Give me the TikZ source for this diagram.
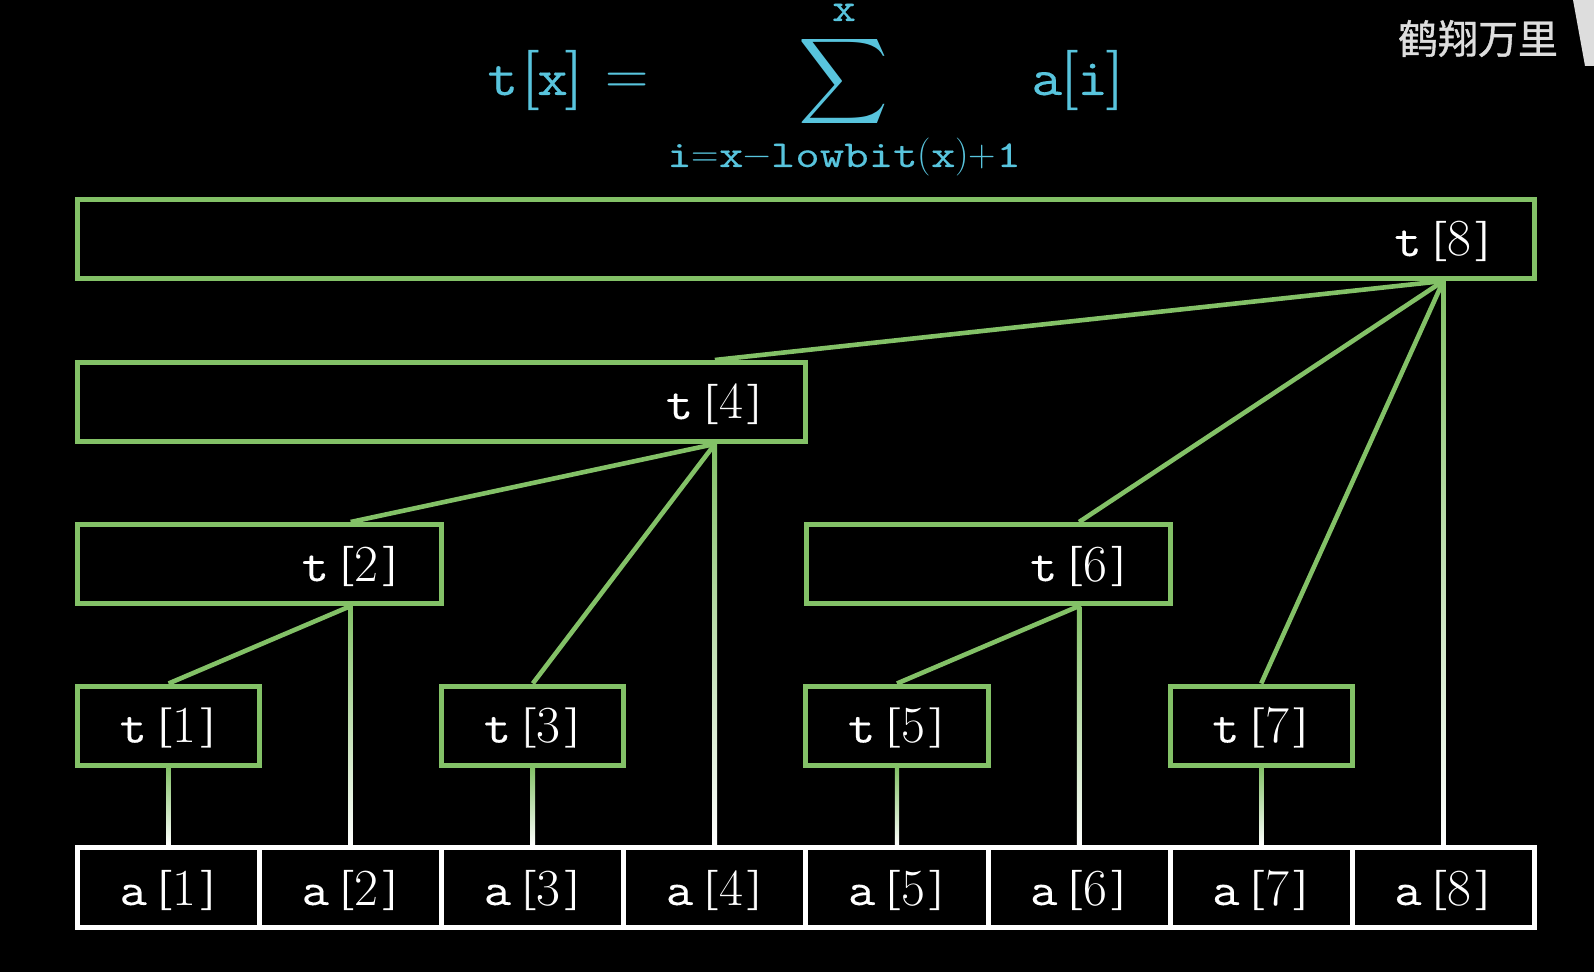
\documentclass[tikz,border=0pt]{standalone}
\usepackage{fontspec}
\usepackage{graphicx}
\newfontfamily\cjk{Noto Sans CJK SC}[FakeBold=1]
\newfontfamily\brk{Latin Modern Roman}[FakeBold=1]
\newfontfamily\ttb{Latin Modern Mono}[FakeBold=0.25]
\definecolor{tg}{HTML}{83C167}
\definecolor{tb}{HTML}{58C4DD}
\definecolor{wm}{HTML}{DDDDDD}
\newcommand\ttw[1]{\scalebox{1.15}[1]{\ttb #1}}
\newcommand\sw[1]{\scalebox{1.25}[1]{\ttb #1}}
\newcommand\lbr[1]{\raisebox{2.5pt}{\scalebox{1.3}[0.77]{\fontsize{26}{30}\selectfont\brk #1}}}
\newcommand\fbr[1]{\scalebox{1.2}[1]{\fontsize{30}{34}\selectfont\brk #1}}
\newcommand\lbl[2]{{\fontsize{23}{26}\selectfont\ttw{#1}}\hspace{4pt}\lbr{[}\hspace{0.5pt}{\fontsize{26}{30}\selectfont #2}\hspace{2pt}\lbr{]}}
\begin{document}
\begin{tikzpicture}[x=0.5pt,y=-0.5pt,
  tbox/.style={draw=tg,line width=2.5pt,minimum height=39.5pt,inner sep=0pt},
  abox/.style={draw=white,line width=2.5pt,minimum width=91.05pt,minimum height=40pt,inner sep=0pt},
  lab/.style={text=white,inner sep=0pt,anchor=base},
  conn/.style={draw=tg,line width=2.3pt},
  fadeline/.style={top color=tg,bottom color=white},
  ftext/.style={text=tb,inner sep=0pt}]
\fill[black] (0,0) rectangle (1594,972);
\useasboundingbox (0,0) rectangle (1594,972);
% formula
\node[ftext,anchor=base west] (fl) at (487,95) {{\fontsize{26}{30}\selectfont\ttw{t}}\hspace{1.5pt}\fbr{[}\kern-1pt{\fontsize{26}{30}\selectfont\ttw{x}}\kern-1.5pt\fbr{]}};
\node[ftext,anchor=base] (feq) at (627,95) {\fontsize{30}{34}\selectfont =};
\node[ftext] (fsum) at (843.5,82) {\resizebox*{45pt}{48pt}{$\displaystyle\sum$}};
\node[ftext,anchor=base] (fsup) at (844,21) {\fontsize{20}{24}\selectfont\ttw{x}};
\node[ftext,anchor=base] (fsub) at (844,167) {\fontsize{19}{21}\selectfont\sw{i}=\sw{x}−\sw{lowbit}(\sw{x})+\sw{1}};
\node[ftext,anchor=base west] (fa) at (1031,95) {{\fontsize{26}{30}\selectfont\ttw{a}}\kern-1pt\fbr{[}\kern-0.5pt{\fontsize{26}{30}\selectfont\ttw{i}}\kern-1pt\fbr{]}};
% watermark
\node[inner sep=0pt,text=wm,font=\cjk\fontsize{20}{24}\selectfont] (wmk) at (1478,38.5) {鹤翔万里};
\fill[wm] (1573,0) -- (1594,0) -- (1594,66) -- (1585,66) -- cycle;
% a row
\foreach \i/\x in {1/168.6,2/350.7,3/532.8,4/714.9,5/897.0,6/1079.1,7/1261.2,8/1443.3}{
  \node[abox] (a\i) at (\x,887.5) {};
  \node[lab] (al\i) at (\x,905) {\lbl{a}{\i}};
}
% t boxes
\node[tbox,minimum width=728.4pt] (t8) at (806,239) {};
\node[tbox,minimum width=364.2pt] (t4) at (441.7,402) {};
\node[tbox,minimum width=182.1pt] (t2) at (259.6,564) {};
\node[tbox,minimum width=182.1pt] (t6) at (988.1,564) {};
\foreach \i/\x in {1/168.6,3/532.8,5/897.0,7/1261.2}{
  \node[tbox,minimum width=91.05pt] (t\i) at (\x,725.5) {};
}
\node[lab] (l8) at (1443.3,256) {\lbl{t}{8}};
\node[lab] (l4) at (714.9,419) {\lbl{t}{4}};
\node[lab] (l2) at (350.7,581) {\lbl{t}{2}};
\node[lab] (l6) at (1079.1,581) {\lbl{t}{6}};
\node[lab] (l1) at (168.6,742.5) {\lbl{t}{1}};
\node[lab] (l3) at (532.8,742.5) {\lbl{t}{3}};
\node[lab] (l5) at (897.0,742.5) {\lbl{t}{5}};
\node[lab] (l7) at (1261.2,742.5) {\lbl{t}{7}};
% connectors between t nodes
\draw[conn] (l8 |- t8.south) -- (l4 |- t4.north);
\draw[conn] (l8 |- t8.south) -- (l6 |- t6.north);
\draw[conn] (l8 |- t8.south) -- (t7.north);
\draw[conn] (l4 |- t4.south) -- (l2 |- t2.north);
\draw[conn] (l4 |- t4.south) -- (t3.north);
\draw[conn] (l2 |- t2.south) -- (t1.north);
\draw[conn] (l6 |- t6.south) -- (t5.north);
% vertical connectors to a
\coordinate (s1) at (t1.south);
\coordinate (s3) at (t3.south);
\coordinate (s5) at (t5.south);
\coordinate (s7) at (t7.south);
\coordinate (s2) at (a2.north |- t2.south);
\coordinate (s4) at (a4.north |- t4.south);
\coordinate (s6) at (a6.north |- t6.south);
\coordinate (s8) at (a8.north |- t8.south);
\foreach \i in {1,...,8}{
  \shade[fadeline] ([xshift=-1.1pt]s\i) rectangle ([xshift=1.1pt]a\i.north);
}
\end{tikzpicture}
\end{document}
